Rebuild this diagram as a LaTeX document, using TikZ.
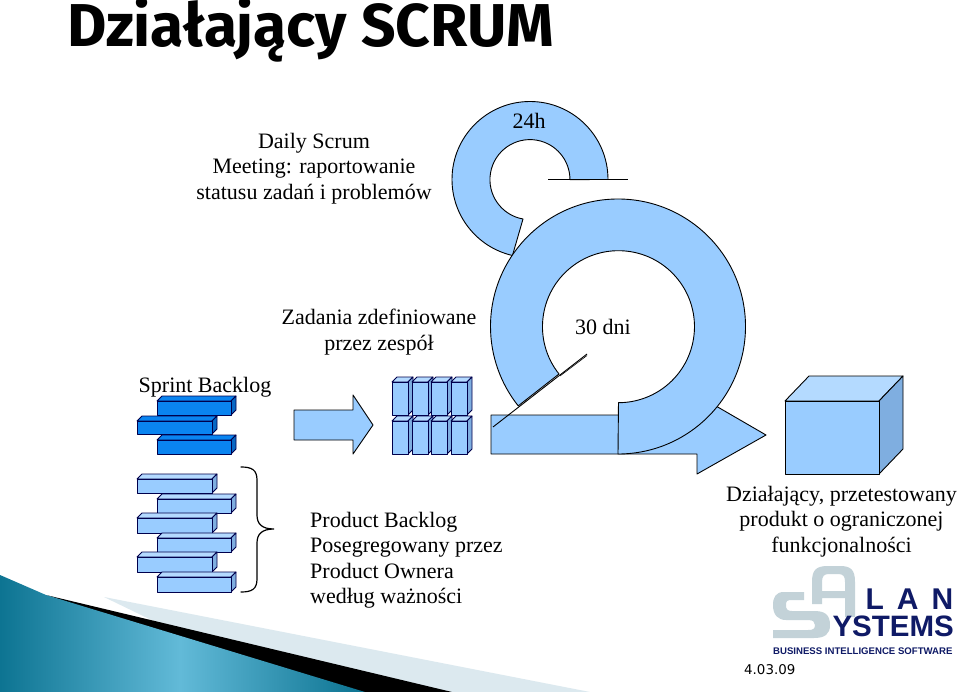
\documentclass[tikz,border=0pt]{standalone}
\usepackage{fontspec}
\setmainfont{Liberation Serif}
\newfontfamily\titlefont{Fira Sans}
\newfontfamily\datefont{DejaVu Sans}
\newfontfamily\logofont{Liberation Sans}
\definecolor{lb}{HTML}{99CCFF}
\definecolor{lbtop}{HTML}{B4DAFF}
\definecolor{lbside}{HTML}{7FAEE0}
\definecolor{db}{HTML}{0A84F0}
\definecolor{dbside}{HTML}{0868C4}
\definecolor{navy}{HTML}{0F1A66}
\definecolor{logog}{HTML}{C3D2D8}
\definecolor{teald}{HTML}{08708E}
\definecolor{teall}{HTML}{62BAD8}
\definecolor{pale}{HTML}{DCE9EF}
\tikzset{
  shp/.style={draw=black,line width=0.9pt,fill=lb,line join=round},
  txt/.style={inner sep=0pt,font=\fontsize{22}{25.3}\selectfont,align=center,anchor=center},
  txtl/.style={inner sep=0pt,font=\fontsize{22}{25.3}\selectfont,align=left,anchor=north west},
}
% x1 y1 x2 y2 : front face; #5 depth; #6 front; #7 top; #8 side
\newcommand{\blk}[8]{%
  \draw[draw=black!70!blue,line width=0.8pt,fill=#7,line join=round] (#1,#2)--(#1+#5,#2-#5)--(#3+#5,#2-#5)--(#3,#2)--cycle;
  \draw[draw=black!70!blue,line width=0.8pt,fill=#8,line join=round] (#3,#2)--(#3+#5,#2-#5)--(#3+#5,#4-#5)--(#3,#4)--cycle;
  \draw[draw=black!70!blue,line width=0.8pt,fill=#6,line join=round] (#1,#2) rectangle (#3,#4);
}
\begin{document}
\begin{tikzpicture}[x=1pt,y=-1pt]
\useasboundingbox (0,0) rectangle (960,692);
\fill[white] (0,0) rectangle (960,692);
% corner swoosh
\fill[pale] (104,597) -- (590,692) -- (300,692) -- cycle;
\fill[black] (46,595) -- (452,692) -- (340,692) -- cycle;
\begin{scope}
\clip (0,692) -- (0,575) -- (46,595) -- (365,692) -- cycle;
\shade[left color=teald,right color=teald,middle color=teall] (-10,560) rectangle (370,700);
\end{scope}
% title
\node[inner sep=0pt,anchor=base west,font=\titlefont\bfseries\fontsize{60.5}{60}\selectfont] (title) at (67,47) {Działający SCRUM};
% small loop
\draw[shp] (608,179.5) arc[start angle=0,end angle=257,radius=78pt] -- (523,219) arc[start angle=260,end angle=0,radius=40pt] -- cycle;
\coordinate (la) at (548,179.5);
\coordinate (lb2) at (628,179.5);
\draw[line width=0.9pt] (la) -- (lb2);
% main arrow
\draw[shp] (491,415) -- (697,415) -- (697,395) -- (766,435) -- (697,474) -- (697,454) -- (491,454) -- cycle;
% big loop
\draw[shp] (618,454) arc[start angle=-90,end angle=218.5,radius=127.5pt] -- (559,374) arc[start angle=218.5,end angle=-90,radius=76pt] -- cycle;
\coordinate (sa) at (493,427);
\coordinate (sc) at (587,354);
\draw[line width=0.9pt] (sa) -- (sc);
\draw[line width=0.6pt] (560,376) -- (587,355.5);
% sprint backlog
\blk{157}{401}{231}{415}{5}{db}{db}{dbside}
\blk{137}{421}{212}{434}{5}{db}{db}{dbside}
\blk{157}{440}{231}{454}{5}{db}{db}{dbside}
% product backlog
\blk{137}{479}{212}{493}{5}{lb}{lbtop}{lbside}
\blk{157}{499}{231}{513}{5}{lb}{lbtop}{lbside}
\blk{137}{518}{212}{533}{5}{lb}{lbtop}{lbside}
\blk{157}{538}{231}{552}{5}{lb}{lbtop}{lbside}
\blk{137}{557}{212}{572}{5}{lb}{lbtop}{lbside}
\blk{157}{577}{231}{592}{5}{lb}{lbtop}{lbside}
% team tasks
\blk{392}{382}{408}{415}{5}{lb}{lbtop}{lbside}
\blk{412}{382}{428}{415}{5}{lb}{lbtop}{lbside}
\blk{431}{382}{447}{415}{5}{lb}{lbtop}{lbside}
\blk{451}{382}{467}{415}{5}{lb}{lbtop}{lbside}
\blk{392}{421}{408}{454}{5}{lb}{lbtop}{lbside}
\blk{412}{421}{428}{454}{5}{lb}{lbtop}{lbside}
\blk{431}{421}{447}{454}{5}{lb}{lbtop}{lbside}
\blk{451}{421}{467}{454}{5}{lb}{lbtop}{lbside}
% small arrow
\draw[shp] (294,410) -- (353,410) -- (353,395) -- (373,425) -- (353,454) -- (353,440) -- (294,440) -- cycle;
% brace
\draw[line width=1.2pt,line cap=round] (241,467) .. controls (252,467) and (257,470) .. (257,480) -- (257,515) .. controls (257,524) and (262,529) .. (274,529) .. controls (262,529) and (257,534) .. (257,543) -- (257,579) .. controls (257,589) and (252,592) .. (241,592);
% cube
\draw[shp,fill=lbtop] (785,401) -- (809,376) -- (903,376) -- (879,401) -- cycle;
\draw[shp,fill=lbside] (879,401) -- (903,376) -- (903,449) -- (879,474) -- cycle;
\draw[shp] (785,401) rectangle (879,474);
% texts
\node[txt] (t1) at (314,168.5) {Daily Scrum\\Meeting: raportowanie\\statusu zadań i problemów};
\node[txt] (t2) at (529,121) {24h};
\node[txt] (t3) at (379,332) {Zadania zdefiniowane\\przez zespół};
\node[txt] (t4) at (603,327) {30 dni};
\node[txt] (t5) at (205,387) {Sprint Backlog};
\node[txtl] (t6) at (310,512) {Product Backlog\\Posegregowany przez\\Product Ownera\\według ważności};
\node[txt] (t7) at (841.5,521.5) {Działający, przetestowany\\produkt o ograniczonej\\funkcjonalności};
% logo
\fill[logog] (804,592) -- (784,592) .. controls (776,592) and (773,597) .. (773,605) .. controls (773,615) and (778,620) .. (786,620) -- (808,620) .. controls (813,620) and (815,622) .. (815,625) .. controls (815,629) and (813,630) .. (808,630) -- (773,630) -- (773,638) -- (814,638) .. controls (825,638) and (830,634) .. (830,625) .. controls (830,614) and (824,611) .. (814,611) -- (792,611) .. controls (787,611) and (786,609) .. (786,605) .. controls (786,601) and (787,600) .. (792,600) -- (804,600) -- cycle;
\fill[logog,even odd rule] (812,582) .. controls (812,570) and (816,566) .. (828,566) -- (840,566) .. controls (851,566) and (855,570) .. (855,582) -- (855,617) -- (845,617) -- (845,598) -- (822,598) -- (822,604) -- (812,604) -- cycle
 (822,591) -- (845,591) -- (845,582) .. controls (845,576) and (843,574) .. (838,574) -- (829,574) .. controls (824,574) and (822,576) .. (822,582) -- cycle;
\node[inner sep=0pt,anchor=base east,text=navy,font=\logofont\bfseries\fontsize{30}{30}\selectfont] (lan) at (953.5,609) {L\hspace{13pt}A\hspace{13pt}N};
\node[inner sep=0pt,anchor=base east,text=navy,font=\logofont\bfseries\fontsize{29.5}{30}\selectfont] (sys) at (954,636) {YSTEMS};
\node[inner sep=0pt,anchor=base west,text=navy,font=\logofont\bfseries\fontsize{9.6}{9}\selectfont] (tag) at (773,654) {BUSINESS INTELLIGENCE SOFTWARE};
\node[inner sep=0pt,anchor=base west,font=\datefont\fontsize{13.4}{13}\selectfont] (date) at (744,674) {4.03.09};
\end{tikzpicture}
\end{document}
